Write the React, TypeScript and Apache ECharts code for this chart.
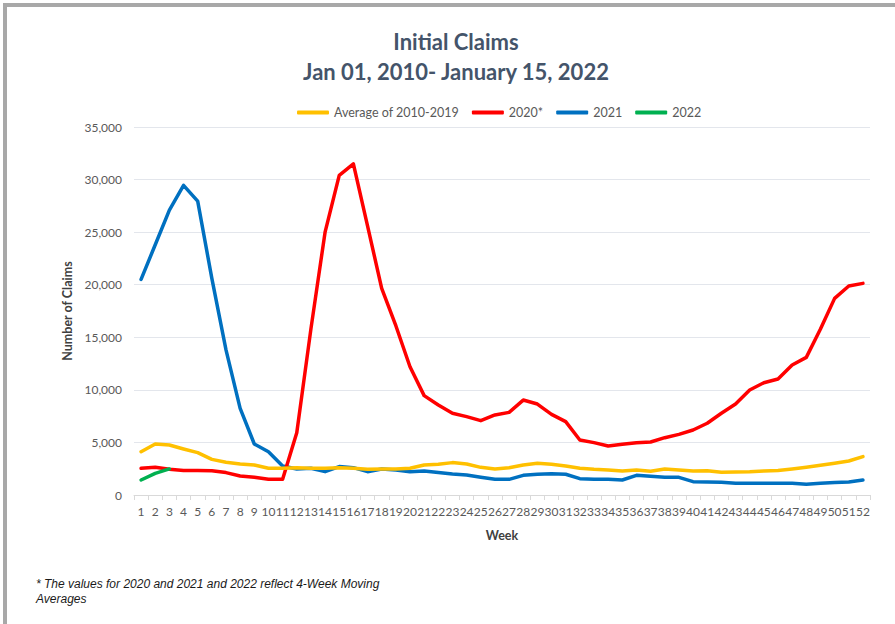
import React, { useEffect, useRef } from "react";
import * as echarts from "echarts";

const weeks: string[] = Array.from({ length: 52 }, (_, i) => String(i + 1));

const avg2010_2019: number[] = [
  4120, 4850, 4760, 4380, 4030, 3390, 3110, 2950, 2850, 2540,
  2540, 2600, 2540, 2540, 2600, 2540, 2440, 2470, 2470, 2540,
  2850, 2920, 3080, 2950, 2630, 2470, 2600, 2850, 3010, 2920,
  2760, 2540, 2440, 2380, 2280, 2380, 2250, 2470, 2380, 2280,
  2310, 2160, 2190, 2220, 2280, 2340, 2470, 2630, 2820, 3010,
  3230, 3650,
];

const y2020: number[] = [
  2540, 2630, 2440, 2320, 2320, 2300, 2130, 1810, 1680, 1490,
  1490, 5930, 15800, 25000, 30400, 31500, 25600, 19650, 16100, 12200,
  9450, 8560, 7770, 7450, 7070, 7610, 7860, 9030, 8650, 7670,
  6980, 5230, 4980, 4660, 4820, 4980, 5040, 5450, 5770, 6180,
  6820, 7770, 8650, 9980, 10680, 11030, 12360, 13090, 15790, 18700,
  19880, 20130,
];

const y2021: number[] = [
  20500, 23800, 27100, 29450, 27950, 20600, 13800, 8240, 4850, 4120,
  2750, 2470, 2540, 2220, 2700, 2600, 2220, 2470, 2380, 2220,
  2280, 2130, 2000, 1900, 1680, 1490, 1490, 1870, 1970, 2030,
  1970, 1550, 1490, 1490, 1430, 1870, 1780, 1680, 1680, 1270,
  1240, 1210, 1110, 1110, 1110, 1110, 1110, 1020, 1110, 1180,
  1240, 1430,
];

const y2022: number[] = [1430, 2060, 2480];

const seriesNames: string[] = ["Average of 2010-2019", "2020*", "2021", "2022"];
const seriesColors: string[] = ["#FFC000", "#FF0000", "#0070C0", "#00B050"];

const titleLines: string[] = ["Initial Claims", "Jan 01, 2010- January 15, 2022"];
const footnoteLines: string[] = [
  "* The values for 2020 and 2021 and 2022 reflect 4-Week Moving",
  "Averages",
];

export default function App() {
  const ref = useRef<HTMLDivElement>(null);

  useEffect(() => {
    document.body.style.margin = "0";
    if (!ref.current) return;
    const chart = echarts.init(ref.current, null, { renderer: "svg" });
    const dataSets = [avg2010_2019, y2020, y2021, y2022];
    const font = "Lato, 'Open Sans', sans-serif";
    chart.setOption({
      animation: false,
      backgroundColor: "#ffffff",
      textStyle: { fontFamily: font },
      grid: { left: 134, right: 25, top: 127, bottom: 129, containLabel: false },
      legend: {
        left: 292,
        top: 101,
        itemWidth: 32,
        itemHeight: 4,
        itemGap: 13,
        icon: "roundRect",
        textStyle: { color: "#595959", fontSize: 12.5, fontFamily: font },
        data: seriesNames,
      },
      xAxis: {
        type: "category",
        data: weeks,
        boundaryGap: true,
        name: "Week",
        nameLocation: "middle",
        nameGap: 34,
        nameTextStyle: { color: "#404040", fontSize: 12.5, fontWeight: "bold", fontFamily: font },
        axisLine: { lineStyle: { color: "#d9d9d9", width: 1 } },
        axisTick: { show: true, length: 5, lineStyle: { color: "#d9d9d9" } },
        axisLabel: { interval: 0, color: "#595959", fontSize: 12, margin: 10, fontFamily: font },
        splitLine: { show: false },
      },
      yAxis: {
        type: "value",
        min: 0,
        max: 35000,
        interval: 5000,
        name: "Number of Claims",
        nameLocation: "middle",
        nameGap: 58,
        nameRotate: 90,
        nameTextStyle: { color: "#404040", fontSize: 12.5, fontWeight: "bold", fontFamily: font },
        axisLine: { show: false },
        axisTick: { show: false },
        axisLabel: {
          color: "#595959",
          fontSize: 12,
          margin: 12,
          fontFamily: font,
          formatter: (v: number) => v.toLocaleString("en-US"),
        },
        splitLine: { lineStyle: { color: "#e3e6ec", width: 1 } },
      },
      series: seriesNames.map((name, i) => ({
        name,
        type: "line",
        data: dataSets[i],
        symbol: "none",
        showSymbol: false,
        smooth: false,
        z: i === 3 ? 5 : 4 - i,
        lineStyle: { color: seriesColors[i], width: 3.5, cap: "round", join: "round" },
        itemStyle: { color: seriesColors[i] },
      })),
      graphic: [
        { type: "rect", shape: { x: 3, y: 3, width: 892, height: 4 }, style: { fill: "#a8a8a8" }, silent: true },
        { type: "rect", shape: { x: 3, y: 3, width: 4, height: 621 }, style: { fill: "#a8a8a8" }, silent: true },
        {
          type: "text",
          x: 456,
          y: 41,
          style: {
            text: titleLines[0],
            fill: "#44546A",
            font: "bold 22px " + font,
            textAlign: "center",
            textVerticalAlign: "middle",
          },
        },
        {
          type: "text",
          x: 456,
          y: 71,
          style: {
            text: titleLines[1],
            fill: "#44546A",
            font: "bold 22px " + font,
            textAlign: "center",
            textVerticalAlign: "middle",
          },
        },
        {
          type: "text",
          x: 36,
          y: 576,
          style: {
            text: footnoteLines.join("\n"),
            fill: "#1a1a1a",
            font: "italic 12px 'Liberation Sans', Arial, sans-serif",
            lineHeight: 15,
          },
        },
      ],
    });
    return () => chart.dispose();
  }, []);

  return (
    <div
      ref={ref}
      style={{ position: "fixed", left: 0, top: 0, width: 895, height: 624 }}
    />
  );
}
